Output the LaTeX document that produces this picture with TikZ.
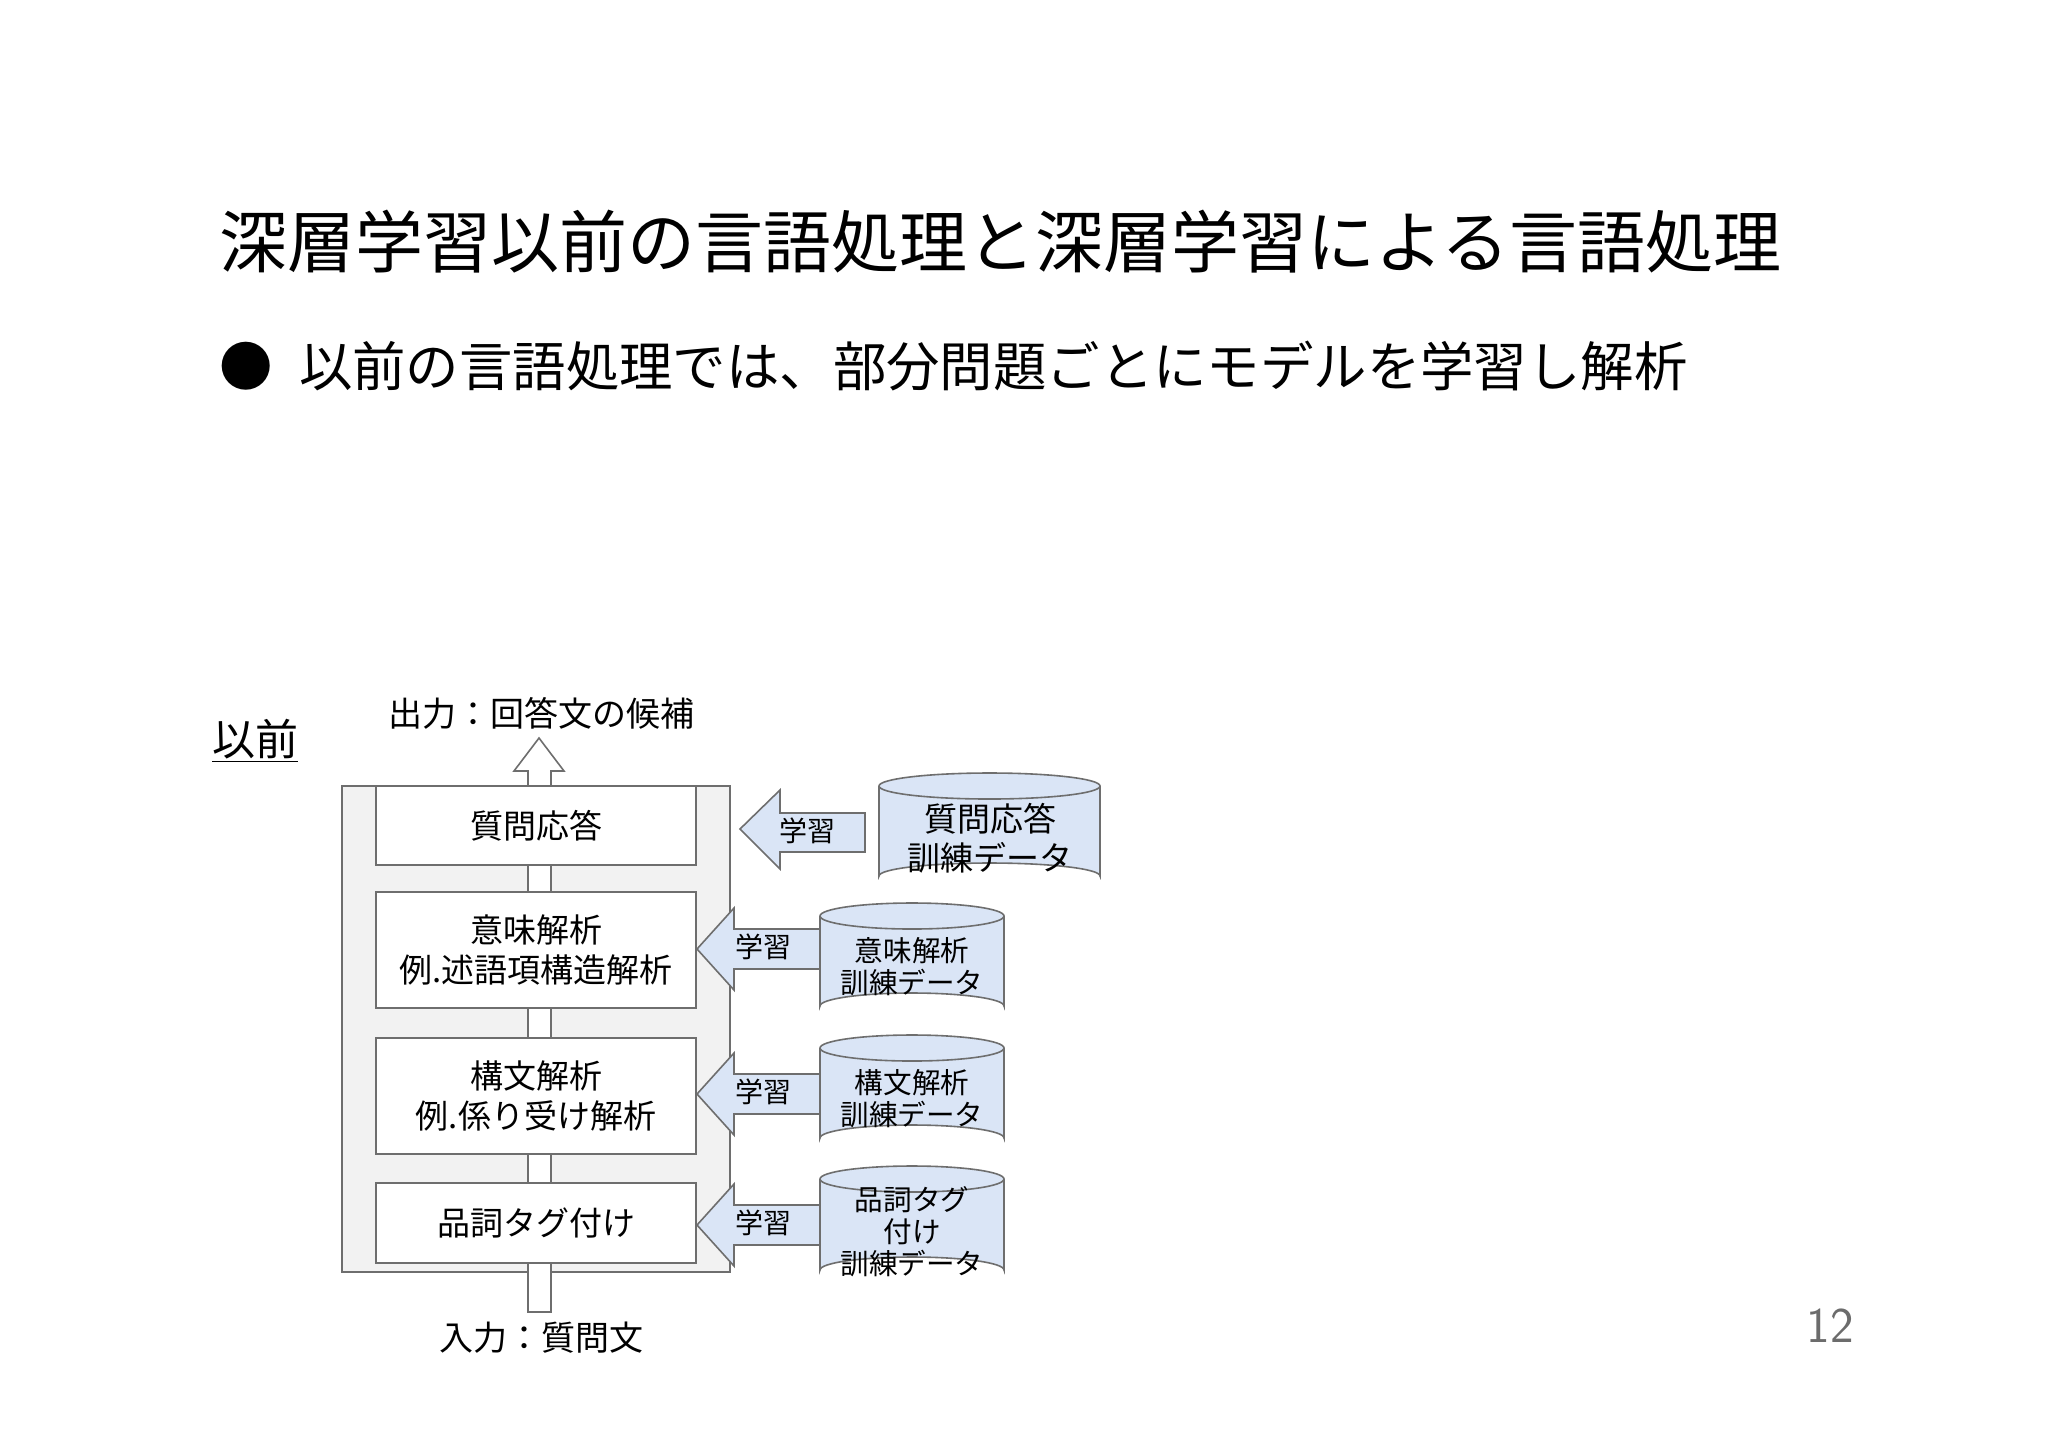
\documentclass[tikz,border=0pt]{standalone}
\usepackage{fontspec}
\setmainfont{Noto Sans CJK JP}
\usetikzlibrary{shapes.geometric}
\definecolor{lblue}{RGB}{218,229,246}
\definecolor{frame}{RGB}{242,242,242}
\definecolor{edge}{RGB}{110,110,110}
\tikzset{
 stage/.style={draw=edge,fill=white,line width=0.8pt,minimum width=160pt,align=center,font=\fontsize{16.5pt}{20pt}\selectfont,inner sep=0pt},
 learn/.style={draw=edge,fill=lblue,line width=0.8pt},
 lbl/.style={font=\fontsize{14pt}{17pt}\selectfont},
 db/.style={draw=edge,fill=lblue,line width=0.8pt},
 dbtxt/.style={align=center,font=\fontsize{14.3pt}{16pt}\selectfont},
}
\newcommand{\mycyl}[5]{% x1 x2 ytop ybot name
 \fill[lblue] (#1,#3) -- (#1,#4) arc[start angle=180,end angle=360,x radius={(#2-#1)/2},y radius=13] -- (#2,#3) -- cycle;
 \draw[edge,line width=0.8pt] (#1,#3) -- (#1,#4) arc[start angle=180,end angle=360,x radius={(#2-#1)/2},y radius=13] -- (#2,#3);
 \draw[db] ({(#1+#2)/2},#3) ellipse[x radius={(#2-#1)/2},y radius=13];
 \coordinate (#5) at ({(#1+#2)/2},{(#3+#4)/2});
}
\begin{document}
\begin{tikzpicture}[x=0.5pt,y=-0.5pt]
\useasboundingbox (0,0) rectangle (2048,1447);
\fill[white] (0,0) rectangle (2048,1447);
\node[anchor=west,font=\fontsize{34pt}{38pt}\selectfont] (title) at (212,242) {深層学習以前の言語処理と深層学習による言語処理};
\node[anchor=west,font=\fontsize{26.7pt}{32pt}\selectfont] (bullet) at (212,366) {●\hspace{0.5em}以前の言語処理では、部分問題ごとにモデルを学習し解析};
\node[font=\fontsize{21.5pt}{26pt}\selectfont] (prev) at (255,741) {\underline{以前}};
\node[font=\fontsize{17pt}{22pt}\selectfont] (out) at (541,713) {出力：回答文の候補};
\node[font=\fontsize{17pt}{22pt}\selectfont] (in) at (541,1338) {入力：質問文};
\node[font=\fontsize{25pt}{28pt}\selectfont\sffamily,text=gray!85!black] (pg) at (1830,1326) {12};
% frame
\draw[edge,fill=frame,line width=0.8pt] (342,786) rectangle (730,1272);
% central arrow
\draw[edge,fill=white,line width=0.8pt] (528,1312) -- (528,771) -- (514,771) -- (539,738) -- (564,771) -- (551,771) -- (551,1312) -- cycle;
% stages
\path (376,786) rectangle (696,865) node[midway,stage,minimum height=39.5pt] (s1) {質問応答};
\path (376,892) rectangle (696,1008) node[midway,stage,minimum height=58pt] (s2) {意味解析\\例.述語項構造解析};
\path (376,1038) rectangle (696,1154) node[midway,stage,minimum height=58pt] (s3) {構文解析\\例.係り受け解析};
\path (376,1183) rectangle (696,1263) node[midway,stage,minimum height=40pt] (s4) {品詞タグ付け};
% learning arrows
\draw[learn] (865,813) -- (780,813) -- (780,790) -- (740,829) -- (780,869) -- (780,852) -- (865,852) -- cycle;
\node[lbl] (l1) at (807,831) {学習};
\foreach \yc/\n in {949/2,1094/3,1225/4}{
 \draw[learn] (820,\yc-20) -- (734,\yc-20) -- (734,\yc-41) -- (697,\yc) -- (734,\yc+41) -- (734,\yc+20) -- (820,\yc+20) -- cycle;
 \node[lbl] (l\n) at (763,\yc-2) {学習};
}
% databases
\mycyl{879}{1100}{786}{876}{d1}
\node[dbtxt,font=\fontsize{16.5pt}{19.5pt}\selectfont] (t1) at (990,838) {質問応答\\訓練データ};
\mycyl{820}{1004}{916}{1006}{d2}
\node[dbtxt] (t2) at (912,967) {意味解析\\訓練データ};
\mycyl{820}{1004}{1048}{1138}{d3}
\node[dbtxt] (t3) at (912,1099) {構文解析\\訓練データ};
\mycyl{820}{1004}{1179}{1270}{d4}
\node[dbtxt] (t4) at (912,1232) {品詞タグ\\付け\\訓練データ};
\end{tikzpicture}
\end{document}
